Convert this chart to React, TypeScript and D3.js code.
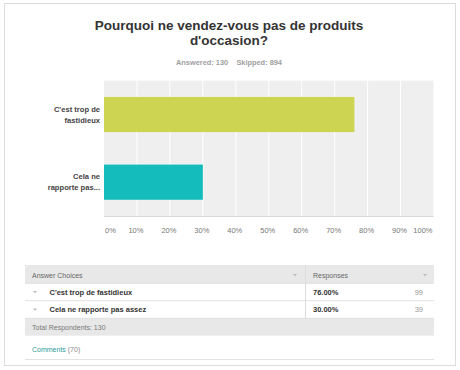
import { useEffect, useRef } from "react";
import * as d3 from "d3";

// data
const categories = ["C'est trop de fastidieux", "Cela ne rapporte pas assez"];
const axisLabels = [["C'est trop de", "fastidieux"], ["Cela ne", "rapporte pas..."]];
const percents = [76, 30];
const counts = [99, 39];
const barColors = ["#cdd452", "#14bcbc"];
const xTicks = [0, 10, 20, 30, 40, 50, 60, 70, 80, 90, 100];
const answered = 130;
const skipped = 894;
const comments = 70;

const FONT = "'Liberation Sans', Arial, sans-serif";

const App = () => {
  const ref = useRef(null);

  useEffect(() => {
    const width = 460;
    const height = 370;

    const root = d3.select(ref.current);
    root.selectAll("*").remove();

    const svg = root
      .append("svg")
      .attr("width", width)
      .attr("height", height)
      .style("position", "absolute")
      .style("left", "0px")
      .style("top", "0px")
      .style("font-family", FONT);

    svg.append("rect").attr("width", width).attr("height", height).attr("fill", "#fff");

    // outer frame
    svg
      .append("rect")
      .attr("x", 4.5)
      .attr("y", 3.5)
      .attr("width", 451)
      .attr("height", 362)
      .attr("fill", "#fff")
      .attr("stroke", "#dcdcdc");

    // title
    const title = svg
      .append("text")
      .attr("x", 229)
      .attr("text-anchor", "middle")
      .attr("font-size", 13.5)
      .attr("font-weight", "bold")
      .attr("fill", "#333");
    title.append("tspan").attr("x", 229).attr("y", 29.5).text("Pourquoi ne vendez-vous pas de produits");
    title.append("tspan").attr("x", 229).attr("y", 44.5).text("d'occasion?");

    svg
      .append("text")
      .attr("x", 229)
      .attr("y", 65)
      .attr("text-anchor", "middle")
      .attr("font-size", 7.4)
      .attr("font-weight", "bold")
      .attr("fill", "#a0a0a0")
      .attr("xml:space", "preserve")
      .text(`Answered: ${answered}    Skipped: ${skipped}`);

    // chart
    const x = d3.scaleLinear().domain([0, 100]).range([104, 433.5]);
    const y = d3
      .scaleBand()
      .domain(categories)
      .range([80.7, 216])
      .paddingInner(0.48)
      .paddingOuter(0.24);

    svg
      .append("rect")
      .attr("x", x(0))
      .attr("y", 80.7)
      .attr("width", x(100) - x(0))
      .attr("height", 216 - 80.7)
      .attr("fill", "#efefef");

    svg
      .append("g")
      .selectAll("line")
      .data(xTicks.slice(1, -1))
      .join("line")
      .attr("x1", (d) => x(d))
      .attr("x2", (d) => x(d))
      .attr("y1", 80.7)
      .attr("y2", 216)
      .attr("stroke", "#fff")
      .attr("stroke-width", 1);

    svg
      .append("g")
      .selectAll("rect")
      .data(categories)
      .join("rect")
      .attr("x", x(0))
      .attr("y", (d) => y(d))
      .attr("width", (d, i) => x(percents[i]) - x(0))
      .attr("height", y.bandwidth())
      .attr("fill", (d, i) => barColors[i]);

    svg
      .append("line")
      .attr("x1", x(0))
      .attr("x2", x(100))
      .attr("y1", 216.5)
      .attr("y2", 216.5)
      .attr("stroke", "#d8d8d8");

    svg
      .append("g")
      .selectAll("text")
      .data(xTicks)
      .join("text")
      .attr("x", (d) => (d === 0 ? x(0) + 1 : d === 100 ? x(100) - 1 : x(d) - 1))
      .attr("y", 233)
      .attr("text-anchor", (d) => (d === 0 ? "start" : d === 100 ? "end" : "middle"))
      .attr("font-size", 7.5)
      .attr("fill", "#777")
      .text((d) => `${d}%`);

    // category labels
    const cat = svg
      .append("g")
      .selectAll("text")
      .data(categories)
      .join("text")
      .attr("text-anchor", "end")
      .attr("font-size", 7.6)
      .attr("font-weight", "bold")
      .attr("fill", "#444");
    cat
      .selectAll("tspan")
      .data((d, i) => axisLabels[i].map((t, j) => ({ t, j, d })))
      .join("tspan")
      .attr("x", 100)
      .attr("y", (p) => y(p.d) + y.bandwidth() / 2 - 3 + p.j * 11)
      .text((p) => p.t);

    // table
    const tx0 = 25;
    const tx1 = 434;
    const div = 305.5;
    const rowTops = [283.3, 300.7];
    const rowH = 17.5;

    svg.append("rect").attr("x", tx0).attr("y", 265).attr("width", tx1 - tx0).attr("height", 18.3).attr("fill", "#e8e8e8");
    svg.append("rect").attr("x", tx0).attr("y", 318.3).attr("width", tx1 - tx0).attr("height", 17.4).attr("fill", "#e8e8e8");

    svg
      .append("g")
      .selectAll("line")
      .data([283.3, 300.7, 318.3])
      .join("line")
      .attr("x1", tx0)
      .attr("x2", tx1)
      .attr("y1", (d) => d)
      .attr("y2", (d) => d)
      .attr("stroke", "#e2e2e2");

    svg
      .append("line")
      .attr("x1", div)
      .attr("x2", div)
      .attr("y1", 265)
      .attr("y2", 318.3)
      .attr("stroke", "#dcdcdc");

    svg
      .append("line")
      .attr("x1", tx0)
      .attr("x2", tx1)
      .attr("y1", 359.5)
      .attr("y2", 359.5)
      .attr("stroke", "#e2e2e2");

    const small = (sx, sy, txt, opts = {}) =>
      svg
        .append("text")
        .attr("x", sx)
        .attr("y", sy)
        .attr("font-size", opts.size || 7)
        .attr("font-weight", opts.bold ? "bold" : "normal")
        .attr("fill", opts.fill || "#666")
        .attr("text-anchor", opts.anchor || "start")
        .text(txt);

    small(32, 277.5, "Answer Choices");
    small(313, 277.5, "Responses");

    // little dropdown arrows
    const arrow = (cx, cy) =>
      svg
        .append("path")
        .attr("d", `M${cx - 2},${cy - 1}L${cx + 2},${cy - 1}L${cx},${cy + 1.2}Z`)
        .attr("fill", "#bbb");
    arrow(295, 275);
    arrow(425, 275);

    categories.forEach((c, i) => {
      const cy = rowTops[i] + rowH / 2;
      arrow(35, cy);
      small(49.5, cy + 2.6, c, { bold: true, fill: "#333", size: 7.5 });
      small(313, cy + 2.6, `${percents[i].toFixed(2)}%`, { bold: true, fill: "#333", size: 7.5 });
      small(423, cy + 2.6, String(counts[i]), { fill: "#999", anchor: "end", size: 7.5 });
    });

    small(32, 330, `Total Respondents: ${answered}`, { fill: "#777" });

    const com = svg
      .append("text")
      .attr("x", 32)
      .attr("y", 351.5)
      .attr("font-size", 7)
      .attr("fill", "#2a9d9d");
    com.append("tspan").text("Comments");
    com.append("tspan").attr("fill", "#888").text(` (${comments})`);
  }, []);

  return <div ref={ref} />;
};

export default App;
